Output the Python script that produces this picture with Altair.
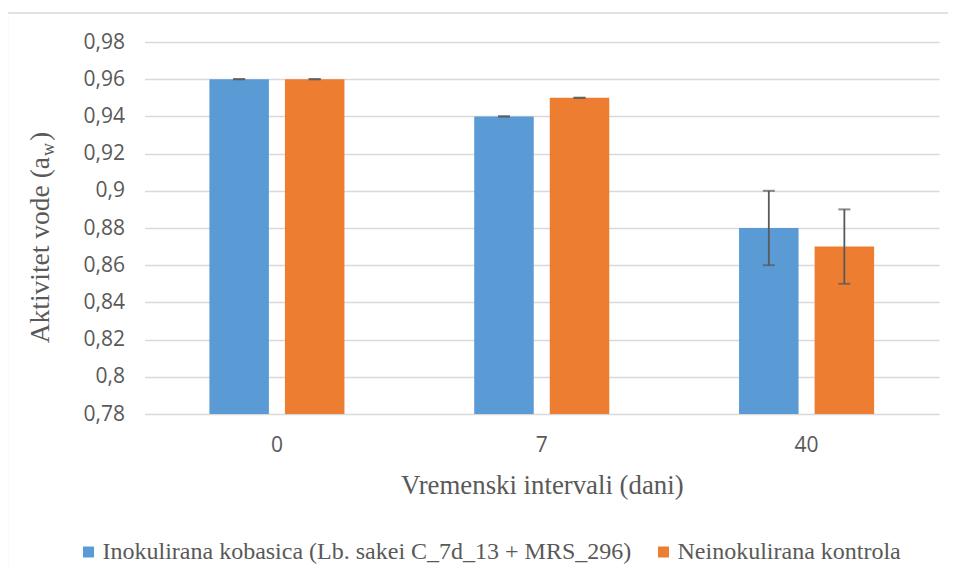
import altair as alt
import pandas as pd

days = ["0", "7", "40"]
series = ["Inokulirana kobasica (Lb. sakei C_7d_13 + MRS_296)", "Neinokulirana kontrola"]
inok = [0.96, 0.94, 0.88]
kontrola = [0.96, 0.95, 0.87]
inok_err = [0.0, 0.0, 0.02]
kontrola_err = [0.0, 0.0, 0.02]
y_ticks = [0.78, 0.80, 0.82, 0.84, 0.86, 0.88, 0.90, 0.92, 0.94, 0.96, 0.98]
colors = ["#5B9BD5", "#ED7D31"]

rows = []
for d, v, e in zip(days, inok, inok_err):
    rows.append({"day": d, "series": series[0], "value": v, "lo": v - e, "hi": v + e})
for d, v, e in zip(days, kontrola, kontrola_err):
    rows.append({"day": d, "series": series[1], "value": v, "lo": v - e, "hi": v + e})
df = pd.DataFrame(rows)

TXT = "#595959"
SERIF = "Liberation Serif"
SANS = "Open Sans"

x_enc = alt.X("day:N", sort=days, title="Vremenski intervali (dani)",
              scale=alt.Scale(paddingInner=0.49, paddingOuter=0.245),
              axis=alt.Axis(labelAngle=0, labelFont=SANS, labelFontSize=21, labelColor=TXT,
                            labelPadding=20, domain=False, ticks=False,
                            titleFont=SERIF, titleFontSize=26.8, titleFontWeight="normal",
                            titleColor=TXT, titlePadding=17))
xo_enc = alt.XOffset("series:N", sort=series,
                     scale=alt.Scale(paddingInner=0.212, paddingOuter=0))
y_scale = alt.Scale(domain=[0.78, 0.98], zero=False, nice=False)
y_axis = alt.Axis(values=y_ticks, labelExpr="replace(format(datum.value, '.2~f'), '.', ',')",
                  labelFont=SANS, labelFontSize=21, labelColor=TXT, labelPadding=20,
                  labelOverlap=False, domain=False, ticks=False, title=None,
                  grid=True, gridColor="#d9d9d9", gridWidth=1.3)

base = alt.Chart(df)

bars = base.mark_bar().encode(
    x=x_enc, xOffset=xo_enc,
    y=alt.Y("value:Q", scale=y_scale, axis=y_axis),
    y2=alt.datum(0.78),
    color=alt.Color("series:N", sort=series,
                    scale=alt.Scale(domain=series, range=colors),
                    legend=alt.Legend(orient="none", direction="horizontal", title=None,
                                      legendX=-68, legendY=498, padding=0,
                                      symbolType="square", symbolSize=121, symbolStrokeWidth=0,
                                      labelFont=SERIF, labelFontSize=24, labelColor=TXT,
                                      labelOffset=2, labelLimit=0, columnPadding=20)),
)

err = base.mark_rule(color=TXT, strokeWidth=1.8).encode(
    x=x_enc, xOffset=xo_enc, y=alt.Y("lo:Q", scale=y_scale, axis=y_axis), y2="hi:Q")
cap_lo = base.mark_tick(color=TXT, size=12, thickness=2).encode(
    x=x_enc, xOffset=xo_enc, y=alt.Y("lo:Q", scale=y_scale, axis=y_axis))
cap_hi = base.mark_tick(color=TXT, size=12, thickness=2).encode(
    x=x_enc, xOffset=xo_enc, y=alt.Y("hi:Q", scale=y_scale, axis=y_axis))

one = pd.DataFrame({"k": [0]})
ytitle_main = alt.Chart(one).mark_text(text="Aktivitet vode (a", angle=270, align="right",
                                       baseline="alphabetic", font=SERIF, fontSize=27.5,
                                       color=TXT).encode(x=alt.value(-96), y=alt.value(115))
ytitle_sub = alt.Chart(one).mark_text(text="w", angle=270, align="left",
                                      baseline="alphabetic", font=SERIF, fontSize=18,
                                      color=TXT).encode(x=alt.value(-91), y=alt.value(114))
ytitle_end = alt.Chart(one).mark_text(text=")", angle=270, align="left",
                                      baseline="alphabetic", font=SERIF, fontSize=27.5,
                                      color=TXT).encode(x=alt.value(-96), y=alt.value(99))

border_top = alt.Chart(one).mark_rule(color="#d9d9d9", strokeWidth=1.3).encode(
    x=alt.value(-137), x2=alt.value(803.5), y=alt.value(-29))
border_left = alt.Chart(one).mark_rule(color="#d9d9d9", strokeWidth=1.3).encode(
    x=alt.value(-137), y=alt.value(-29), y2=alt.value(526))

chart = alt.layer(border_top, border_left, bars, err, cap_lo, cap_hi,
                  ytitle_main, ytitle_sub, ytitle_end).properties(
    width=794.5, height=372,
    autosize=alt.AutoSizeParams(type="none"),
    padding={"left": 136.5, "top": 34, "right": 9, "bottom": 154},
    background="white",
).configure_view(stroke=None).configure_legend(labelFont=SERIF)

chart.save("out.html", embed_options={"renderer": "svg", "actions": False})
